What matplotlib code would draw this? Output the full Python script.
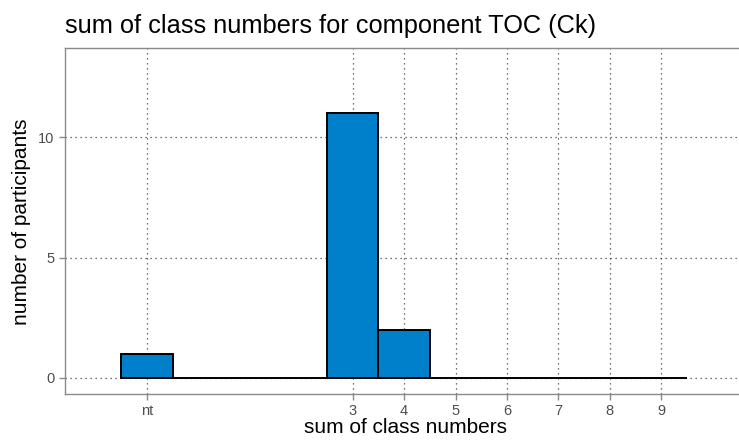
import matplotlib
matplotlib.use('Agg')
import matplotlib.pyplot as plt

plt.rcParams['font.family'] = ['Liberation Sans', 'DejaVu Sans']

# class-number sums (-1 stands for "nt" = not tested) and participant counts
positions = [-1, 0, 1, 2, 3, 4, 5, 6, 7, 8, 9]
counts = [1, 0, 0, 0, 11, 2, 0, 0, 0, 0, 0]
tick_pos = [-1, 3, 4, 5, 6, 7, 8, 9]
tick_labels = ['nt', '3', '4', '5', '6', '7', '8', '9']
y_ticks = [0, 5, 10]

fig = plt.figure(figsize=(7.39, 4.43), dpi=100)
ax = fig.add_axes([65 / 739, 49 / 443, 680 / 739, 346 / 443])

ax.bar(positions, counts, width=1.0, color='#0080CB', edgecolor='black',
       linewidth=1.4, zorder=3)

ax.set_xlim(-2.595, 10.63)
ax.set_ylim(-0.68, 13.72)
ax.set_xticks(tick_pos)
ax.set_xticklabels(tick_labels)
ax.set_yticks(y_ticks)

ax.grid(True, color='#444444', linewidth=0.9, linestyle=(0, (1, 3)), zorder=0)
ax.set_axisbelow(True)

for side in ['left', 'bottom', 'top']:
    ax.spines[side].set_color('#8a8a8a')
    ax.spines[side].set_linewidth(1.0)
ax.spines['right'].set_visible(False)

ax.tick_params(axis='both', colors='#8a8a8a', length=4, width=1.0,
               labelcolor='#4d4d4d', labelsize=10.5)

fig.text(405 / 739, 10 / 443, 'sum of class numbers', ha='center',
         va='baseline', fontsize=15)
fig.text(22 / 739, 221 / 443, 'number of participants', ha='center',
         va='center', rotation=90, fontsize=15)
fig.text(65 / 739, (443 - 33) / 443, 'sum of class numbers for component TOC (Ck)',
         ha='left', va='baseline', fontsize=18.3)

fig.savefig('out.png', dpi=100)
